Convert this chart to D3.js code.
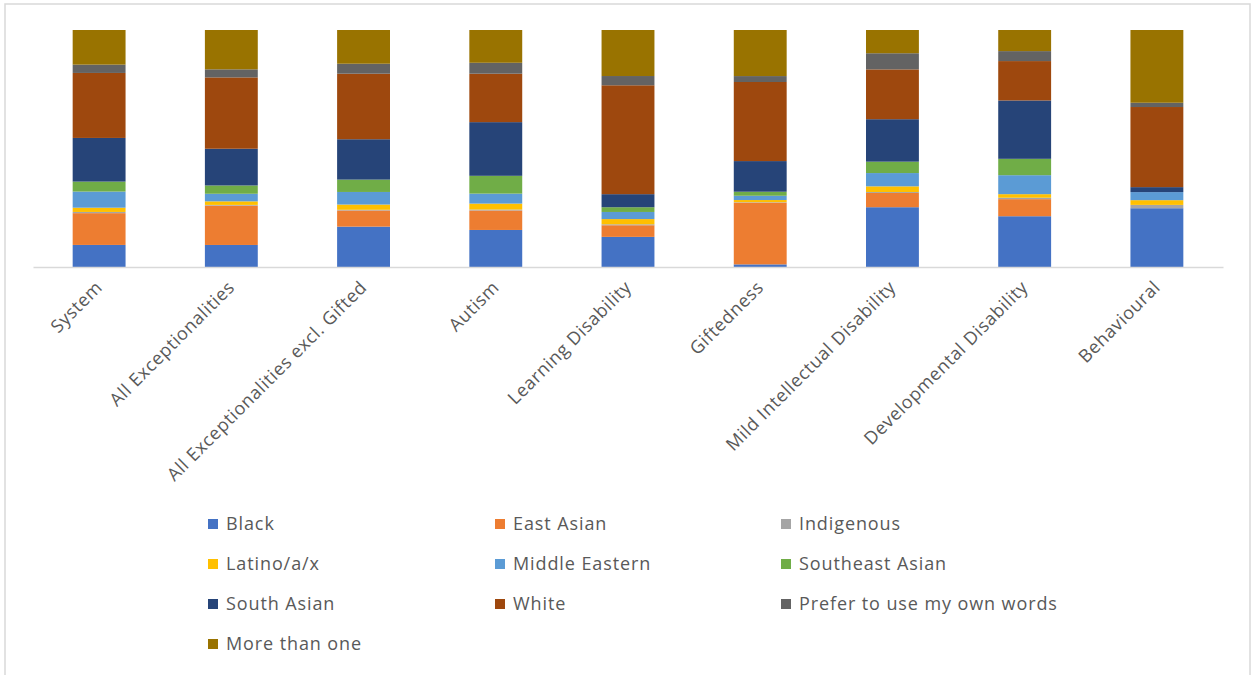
<!DOCTYPE html>
<html>
<head>
<meta charset="utf-8">
<script src="https://cdn.jsdelivr.net/npm/d3@7"></script>
<style>
  body { margin: 0; background: #fff; }
  text { font-family: "Open Sans", "Noto Sans", sans-serif; fill: #595959; }
</style>
</head>
<body>
<svg id="chart" width="1254" height="675"></svg>
<script>
"use strict";

// categories along the bottom
const categories = ["System", "All Exceptionalities", "All Exceptionalities excl. Gifted", "Autism",
  "Learning Disability", "Giftedness", "Mild Intellectual Disability", "Developmental Disability", "Behavioural"];

// series names (stack order, bottom to top)
const seriesNames = ["Black", "East Asian", "Indigenous", "Latino/a/x", "Middle Eastern",
  "Southeast Asian", "South Asian", "White", "Prefer to use my own words", "More than one"];

// share of each group per category (percent)
const black        = [9.3, 9.3, 17.0, 15.6, 12.7, 1.1, 25.2, 21.4, 24.8];
const eastAsian    = [13.4, 16.6, 6.8, 8.2, 4.9, 26.0, 6.0, 7.2, 0];
const indigenous   = [0.5, 0.3, 0.3, 0.4, 0.4, 0.2, 0.4, 0.6, 1.4];
const latino       = [1.8, 1.5, 2.2, 2.5, 2.2, 0.9, 2.4, 1.5, 2.0];
const middleEast   = [6.8, 3.2, 5.3, 4.2, 3.0, 1.8, 5.6, 8.0, 3.4];
const southeastAs  = [4.2, 3.5, 5.2, 7.5, 2.0, 1.7, 4.8, 6.9, 0];
const southAsian   = [18.4, 15.5, 17.0, 22.6, 5.5, 12.9, 17.9, 24.6, 2.1];
const white        = [27.4, 30.1, 27.6, 20.4, 45.9, 33.3, 21.0, 16.6, 33.8];
const preferOwn    = [3.5, 3.4, 4.2, 4.6, 3.9, 2.5, 6.8, 4.2, 1.8];
const moreThanOne  = [14.6, 16.6, 14.2, 13.8, 19.4, 19.4, 9.8, 8.9, 30.7];

const seriesValues = [black, eastAsian, indigenous, latino, middleEast,
  southeastAs, southAsian, white, preferOwn, moreThanOne];

const colors = ["#4472C4", "#ED7D31", "#A5A5A5", "#FFC000", "#5B9BD5",
  "#70AD47", "#264478", "#9E480E", "#636363", "#997300"];

const chartTop = 30, chartBottom = 267, chartLeft = 33, chartRight = 1223;

const svg = d3.select("#chart");

// outer frame
svg.append("rect")
  .attr("x", 5).attr("y", 4).attr("width", 1245).attr("height", 690)
  .attr("fill", "none").attr("stroke", "#d9d9d9").attr("stroke-width", 1.5);

// build table for the stack
const table = categories.map((c, i) => {
  const row = { cat: c };
  seriesNames.forEach((s, j) => { row[s] = seriesValues[j][i]; });
  return row;
});

const stacked = d3.stack().keys(seriesNames).offset(d3.stackOffsetExpand)(table);

const x = d3.scaleBand().domain(categories).range([chartLeft, chartRight])
  .paddingInner(0.6).paddingOuter(0.3);
const y = d3.scaleLinear().domain([0, 1]).range([chartBottom, chartTop]);
const color = d3.scaleOrdinal().domain(seriesNames).range(colors);

// bars
svg.append("g").selectAll("g")
  .data(stacked)
  .join("g")
  .attr("fill", d => color(d.key))
  .selectAll("rect")
  .data(d => d)
  .join("rect")
  .attr("x", d => x(d.data.cat))
  .attr("width", x.bandwidth())
  .attr("y", d => y(d[1]))
  .attr("height", d => y(d[0]) - y(d[1]));

// bottom axis
const axis = d3.axisBottom(x).tickSize(0).tickPadding(0);
const gx = svg.append("g")
  .attr("transform", "translate(0," + chartBottom + ")")
  .call(axis);
gx.select(".domain").attr("stroke", "#d9d9d9").attr("stroke-width", 1.5);
gx.selectAll("text")
  .attr("font-size", 18)
  .attr("letter-spacing", 0.6)
  .attr("fill", "#595959")
  .attr("y", 0).attr("dy", "0.35em")
  .attr("transform", "translate(0,17) rotate(-45)")
  .style("text-anchor", "end");
gx.attr("font-family", null);

// legend
const legend = svg.append("g");
const legendCols = [208, 495, 781];
const legendRows = [524, 564, 604, 644];
seriesNames.forEach((name, i) => {
  const lx = legendCols[i % 3];
  const ly = legendRows[Math.floor(i / 3)];
  const item = legend.append("g").attr("transform", "translate(" + lx + "," + ly + ")");
  item.append("rect").attr("x", 0).attr("y", -5).attr("width", 10).attr("height", 10)
    .attr("fill", color(name));
  item.append("text").attr("x", 18).attr("y", 0).attr("dy", "0.35em")
    .attr("font-size", 18).attr("letter-spacing", 0.9).text(name);
});
</script>
</body>
</html>
